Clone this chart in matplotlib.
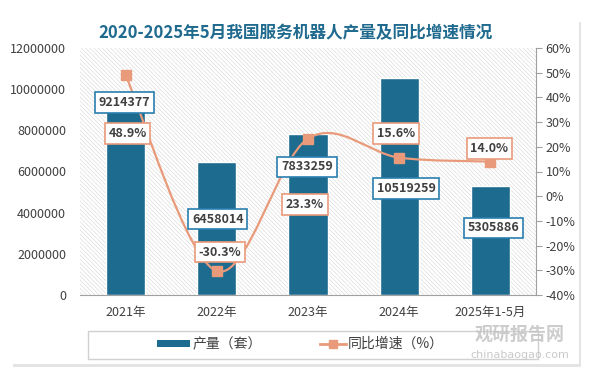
import matplotlib
matplotlib.use("Agg")
import matplotlib.pyplot as plt
from matplotlib.path import Path
from matplotlib.patches import PathPatch, Rectangle
import numpy as np

plt.rcParams['font.family'] = ['Noto Sans CJK SC', 'DejaVu Sans']
plt.rcParams['hatch.linewidth'] = 0.4

# 数据
categories = ['2021年', '2022年', '2023年', '2024年', '2025年1-5月']
output = [9214377, 6458014, 7833259, 10519259, 5305886]
growth = [48.9, -30.3, 23.3, 15.6, 14.0]

# 标签偏移 (像素)
bar_lbl_off = [(-1, 3), (1, -57), (-1, -33), (7, -110), (3, -42)]
pct_lbl_off = [(2, -58), (3, 19), (-3, -66), (-3, 24), (-1, 13)]

BLUE = '#1d6b8f'
ORANGE = '#e99a7a'
TXT = '#404040'

fig = plt.figure(figsize=(5.91, 3.69), dpi=100)
fig.patch.set_facecolor('white')

# 外框阴影 + 白色面板
fig.patches.append(Rectangle((13 / 591, 1 - 367 / 369), 568 / 591, 345 / 369,
                             transform=fig.transFigure, facecolor='#e4e4e4',
                             edgecolor='none', zorder=-3))
fig.patches.append(Rectangle((11 / 591, 1 - 364 / 369), 568 / 591, 344 / 369,
                             transform=fig.transFigure, facecolor='white',
                             edgecolor='none', zorder=-2))

ax = fig.add_axes([80 / 591, 1 - 295 / 369, 456 / 591, 247 / 369])
ax.set_facecolor('none')
x = np.arange(len(categories))

# 斜线背景
ax.add_patch(Rectangle((0, 0), 1, 1, transform=ax.transAxes, facecolor='white',
                       edgecolor='#d6d6d6', hatch='\\\\\\\\\\\\\\\\', lw=0, zorder=0))

ax.bar(x, output, width=0.43, color=BLUE, edgecolor='white', linewidth=1, zorder=2)
ax.set_xlim(-0.5, len(categories) - 0.5)
ax.set_ylim(0, 12000000)
ax.set_yticks(np.arange(0, 12000001, 2000000))
ax.set_yticklabels([str(v) for v in range(0, 12000001, 2000000)])
ax.set_xticks(x)
ax.set_xticklabels(categories)
ax.tick_params(axis='y', length=0, labelsize=9, labelcolor=TXT, pad=10)
ax.tick_params(axis='x', length=0, labelsize=9, labelcolor=TXT, pad=8)
for s in ['top', 'left', 'right']:
    ax.spines[s].set_visible(False)
ax.spines['bottom'].set_color('#a0a0a0')

ax2 = ax.twinx()
ax2.set_ylim(-40, 60)
ax2.set_yticks(np.arange(-40, 61, 10))
ax2.set_yticklabels([f'{v}%' for v in range(-40, 61, 10)])
ax2.tick_params(axis='y', direction='out', length=4, color='#a0a0a0',
                labelsize=9, labelcolor=TXT, pad=3)
for s in ['top', 'left', 'bottom']:
    ax2.spines[s].set_visible(False)
ax2.spines['right'].set_color('#a0a0a0')

# 平滑曲线 (三次贝塞尔)
pts = np.column_stack([x, growth]).astype(float)
verts = [tuple(pts[0])]
codes = [Path.MOVETO]
n = len(pts)
for i in range(n - 1):
    p0 = pts[max(i - 1, 0)]
    p1 = pts[i]
    p2 = pts[i + 1]
    p3 = pts[min(i + 2, n - 1)]
    c1 = p1 + (p2 - p0) / 6
    c2 = p2 - (p3 - p1) / 6
    verts += [tuple(c1), tuple(c2), tuple(p2)]
    codes += [Path.CURVE4] * 3
ax2.add_patch(PathPatch(Path(verts, codes), facecolor='none', edgecolor=ORANGE,
                        lw=1.6, zorder=3))
ax2.plot(x, growth, linestyle='none', marker='s', markersize=7, color=ORANGE, zorder=4)

# 数据标签 (画在右轴上, 压住折线)
for i, v in enumerate(output):
    ax2.annotate(str(v), (x[i], v), xycoords=ax.transData,
                 xytext=bar_lbl_off[i], textcoords='offset pixels',
                 ha='center', va='center', fontsize=9, fontweight='bold', color=TXT,
                 bbox=dict(boxstyle='square,pad=0.3', fc='white', ec='#2a7fb0', lw=1.2),
                 zorder=6, annotation_clip=False)
for i, v in enumerate(growth):
    ax2.annotate(f'{v:.1f}%', (x[i], v), xytext=pct_lbl_off[i], textcoords='offset pixels',
                 ha='center', va='center', fontsize=9, fontweight='bold', color=TXT,
                 bbox=dict(boxstyle='square,pad=0.3', fc='white', ec=ORANGE, lw=1.2),
                 zorder=6, annotation_clip=False)

fig.text(0.5, 1 - 33 / 369, '2020-2025年5月我国服务机器人产量及同比增速情况',
         ha='center', va='center', fontsize=12, fontweight='bold', color='#1f6a8e')

# 图例
fig.patches.append(Rectangle((88 / 591, 1 - 359 / 369), 450 / 591, 28 / 369,
                             transform=fig.transFigure, facecolor='white',
                             edgecolor='#d0d0d0', lw=1, zorder=1))
ly = 1 - 344 / 369
fig.patches.append(Rectangle((157 / 591, ly - 3 / 369), 33 / 591, 7 / 369,
                             transform=fig.transFigure, facecolor=BLUE,
                             edgecolor='none', zorder=2))
fig.text(193 / 591, ly, '产量（套）', ha='left', va='center', fontsize=10, color=TXT)
fig.lines.append(plt.Line2D([320 / 591, 333 / 591, 346 / 591], [ly, ly, ly],
                            transform=fig.transFigure, color=ORANGE, lw=2,
                            marker='s', markersize=6, markevery=[1], zorder=2))
fig.text(348 / 591, ly, '同比增速（%）', ha='left', va='center', fontsize=10, color=TXT)

# 水印
fig.text(520 / 591, 1 - 334 / 369, '观研报告网', ha='center', va='center', fontsize=13,
         fontweight='bold', color='#c4c4c4', alpha=0.85, zorder=5)
fig.text(520 / 591, 1 - 355 / 369, 'chinabaogao.com', ha='center', va='center', fontsize=8,
         color='#c4c4c4', alpha=0.9, family='DejaVu Sans', zorder=5)

fig.savefig('out.png', dpi=100)
